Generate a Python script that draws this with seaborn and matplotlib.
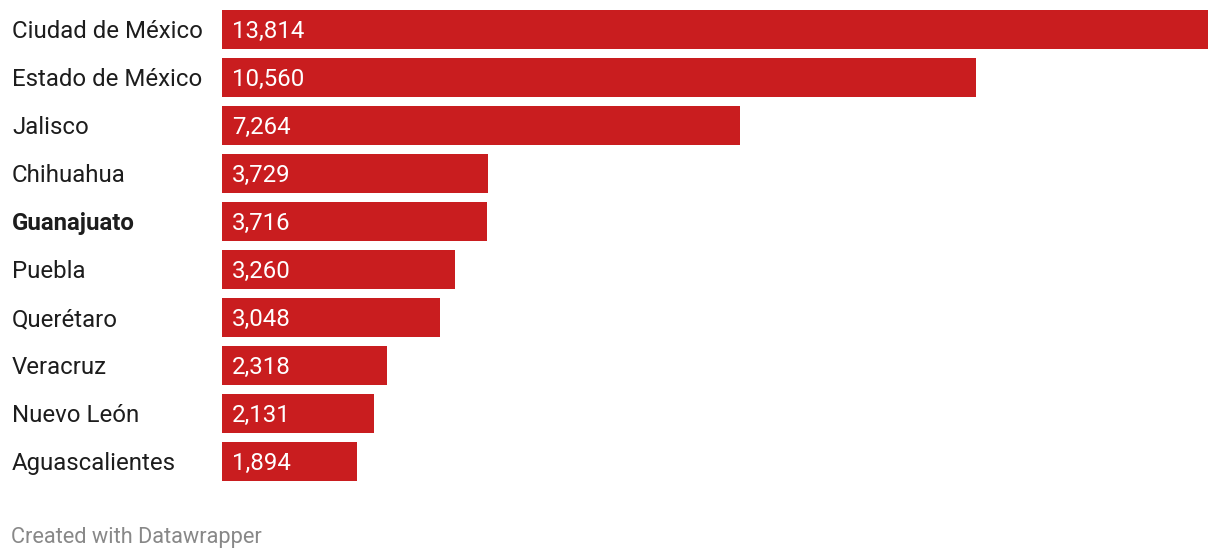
import matplotlib
matplotlib.use("Agg")
import matplotlib.pyplot as plt
import seaborn as sns
import pandas as pd

states = ["Ciudad de México", "Estado de México", "Jalisco", "Chihuahua", "Guanajuato",
          "Puebla", "Querétaro", "Veracruz", "Nuevo León", "Aguascalientes"]
values = [13814, 10560, 7264, 3729, 3716, 3260, 3048, 2318, 2131, 1894]
highlight = "Guanajuato"

sns.set_theme(style="white")
plt.rcParams['font.family'] = ['Roboto', 'DejaVu Sans']

df = pd.DataFrame({"state": states, "value": values})

W, H = 1220, 558
fig = plt.figure(figsize=(W / 100, H / 100), dpi=100)
ax = fig.add_axes([222 / W, 1 - 485.5 / H, (1208 - 222) / W, 480 / H])

sns.barplot(data=df, x="value", y="state", color="#c91d1f", saturation=1,
            width=39 / 48, ax=ax, orient="h", linewidth=0, edgecolor="none")
ax.set_xlim(0, max(values))
ax.set_ylim(len(states) - 0.5, -0.5)
ax.set_xlabel("")
ax.set_ylabel("")
ax.set_xticks([])
ax.set_yticks([])
for s in ax.spines.values():
    s.set_visible(False)

for i, (st, v) in enumerate(zip(states, values)):
    ax.text(-210 / 986 * max(values), i - 0.01, st, ha="left", va="center_baseline",
            fontsize=17.3, color="#1d1d1d",
            fontweight="bold" if st == highlight else "normal")
    ax.text(10 / 986 * max(values), i - 0.01, f"{v:,}", ha="left", va="center_baseline",
            fontsize=17.3, color="white")

fig.text(11 / W, 1 - 535 / H, "Created with Datawrapper", ha="left", va="center_baseline",
         fontsize=15.7, color="#888888")

fig.savefig("out.png", dpi=100)
